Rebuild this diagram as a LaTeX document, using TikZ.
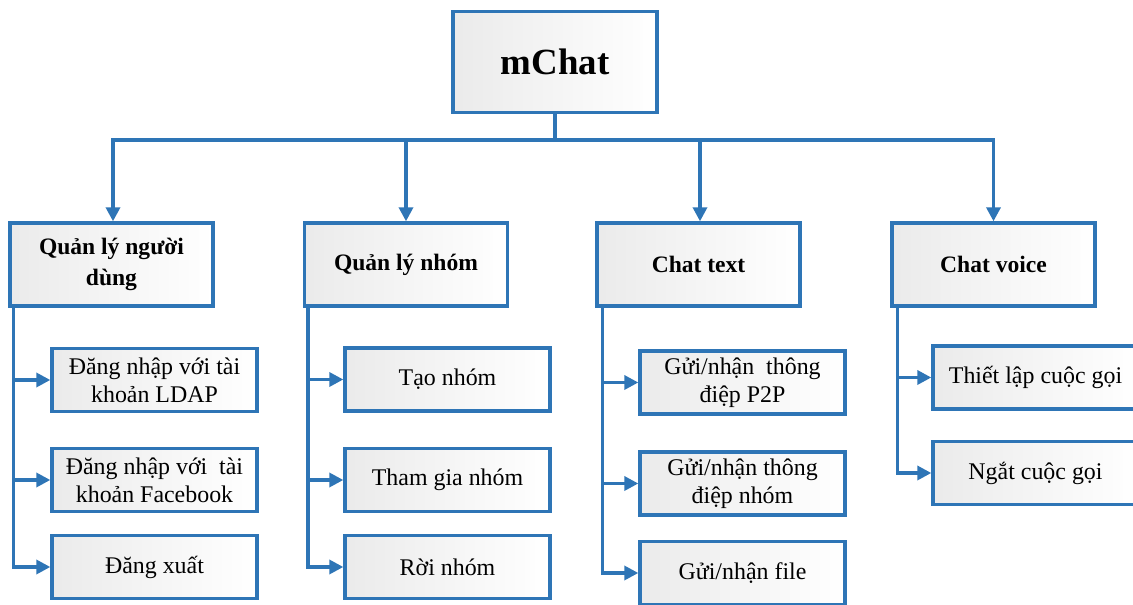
\documentclass[tikz,border=0pt]{standalone}
\usepackage{fontspec}
\setmainfont{Liberation Serif}
\usepackage{tikz}
\usetikzlibrary{arrows.meta}
\definecolor{xanh}{RGB}{46,117,182}

\begin{document}
\begin{tikzpicture}[
	khoi/.style={draw=xanh, line width=1.9pt, rectangle, left color=black!8, right color=white, align=center, inner sep=2pt},
	goc/.style={khoi, minimum width=4.08cm, minimum height=2.02cm, font=\fontsize{21}{25}\selectfont\bfseries},
	nhanh/.style={khoi, minimum width=4.06cm, minimum height=1.66cm, font=\fontsize{13.4}{18}\selectfont\bfseries},
	la/.style={khoi, minimum width=4.1cm, minimum height=1.26cm, font=\fontsize{13.6}{15.8}\selectfont},
	muiten/.style={-{Triangle[length=0.28cm, width=0.28cm]}, draw=xanh, line width=1.9pt}
	]
	\useasboundingbox (0,0) rectangle (22.66,12.10);

	\node[goc] (mchat) at (11.10,10.86) {mChat};

	\node[nhanh] (qlnd) at (2.23,6.81) {Quản lý người\\dùng};
	\node[nhanh] (qln) at (8.12,6.81) {Quản lý nhóm};
	\node[nhanh] (text) at (13.97,6.81) {Chat text};
	\node[nhanh] (voice) at (19.87,6.81) {Chat voice};

	\node[la] (ldap) at (3.09,4.50) {Đăng nhập với tài\\khoản LDAP};
	\node[la] (fb) at (3.09,2.50) {Đăng nhập với\ \ tài\\khoản Facebook};
	\node[la] (xuat) at (3.09,0.76) {Đăng xuất};

	\node[la] (tao) at (8.95,4.51) {Tạo nhóm};
	\node[la] (thamgia) at (8.95,2.50) {Tham gia nhóm};
	\node[la] (roi) at (8.95,0.76) {Rời nhóm};

	\node[la] (p2p) at (14.85,4.45) {Gửi/nhận\ \ thông\\điệp P2P};
	\node[la] (nhom) at (14.85,2.43) {Gửi/nhận thông\\điệp nhóm};
	\node[la] (file) at (14.85,0.64) {Gửi/nhận file};

	\node[la] (goi) at (20.71,4.55) {Thiết lập cuộc gọi};
	\node[la] (ngat) at (20.71,2.64) {Ngắt cuộc gọi};

	\coordinate (bus) at (11.10,9.30);
	\draw[muiten] (mchat.south) -- (bus) -| ([xshift=0.03cm]qlnd.north);
	\draw[muiten] (mchat.south) -- (bus) -| (qln.north);
	\draw[muiten] (mchat.south) -- (bus) -| ([xshift=0.03cm]text.north);
	\draw[muiten] (mchat.south) -- (bus) -| (voice.north);

	\draw[muiten] ([xshift=0.1cm]qlnd.south west) |- (ldap.west);
	\draw[muiten] ([xshift=0.1cm]qlnd.south west) |- (fb.west);
	\draw[muiten] ([xshift=0.1cm]qlnd.south west) |- (xuat.west);

	\draw[muiten] ([xshift=0.1cm]qln.south west) |- (tao.west);
	\draw[muiten] ([xshift=0.1cm]qln.south west) |- (thamgia.west);
	\draw[muiten] ([xshift=0.1cm]qln.south west) |- (roi.west);

	\draw[muiten] ([xshift=0.14cm]text.south west) |- (p2p.west);
	\draw[muiten] ([xshift=0.14cm]text.south west) |- (nhom.west);
	\draw[muiten] ([xshift=0.14cm]text.south west) |- (file.west);

	\draw[muiten] ([xshift=0.14cm]voice.south west) |- (goi.west);
	\draw[muiten] ([xshift=0.14cm]voice.south west) |- (ngat.west);
\end{tikzpicture}
\end{document}
